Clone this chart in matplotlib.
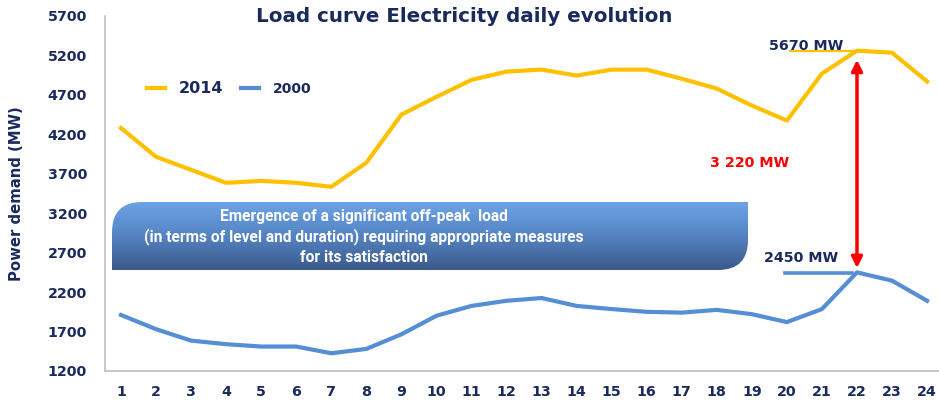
import matplotlib.pyplot as plt
import numpy as np
from matplotlib.path import Path
from matplotlib.patches import PathPatch
from matplotlib.colors import LinearSegmentedColormap

hours = list(range(1, 25))
load_2014 = [4280, 3915, 3750, 3585, 3610, 3585, 3535, 3840, 4450, 4675, 4890, 4995,
             5020, 4945, 5020, 5020, 4905, 4780, 4565, 4375, 4970, 5260, 5235, 4870]
load_2000 = [1910, 1730, 1585, 1540, 1510, 1510, 1425, 1480, 1665, 1900, 2025, 2090,
             2125, 2025, 1985, 1950, 1940, 1975, 1920, 1820, 1985, 2450, 2345, 2090]
y_ticks = [1200, 1700, 2200, 2700, 3200, 3700, 4200, 4700, 5200, 5700]
peak_hour = 22
label_2014 = '5670 MW'
label_2000 = '2450 MW'
label_gap = '3 220 MW'
banner_lines = ['Emergence of a significant off-peak  load',
                '(in terms of level and duration) requiring appropriate measures',
                'for its satisfaction']

navy = '#1b2a5c'
orange = '#ffc000'
blue = '#558ed5'

plt.rcParams['font.family'] = 'DejaVu Sans'
fig = plt.figure(figsize=(9.39, 4.03), dpi=100)
ax = fig.add_axes([105/939, 32/403, 834/939, 355/403])

ax.plot(hours, load_2014, color=orange, lw=3, label='2014', solid_joinstyle='round')
ax.plot(hours, load_2000, color=blue, lw=3, label='2000', solid_joinstyle='round')

ax.set_xlim(0.543, 24.34)
ax.set_ylim(1200, 5700)
ax.set_xticks(hours)
ax.set_yticks(y_ticks)
ax.tick_params(length=0, labelsize=10.3, labelcolor=navy)
ax.tick_params(axis='y', pad=13)
ax.tick_params(axis='x', pad=10)
for t in ax.get_xticklabels() + ax.get_yticklabels():
    t.set_fontweight('bold')
for s in ['top', 'right']:
    ax.spines[s].set_visible(False)
for s in ['left', 'bottom']:
    ax.spines[s].set_color('#bfbfbf')
    ax.spines[s].set_linewidth(1.2)
ax.set_ylabel('Power demand (MW)', fontsize=10.7, fontweight='bold', color=navy)
ax.yaxis.set_label_coords(-0.097, 0.5)

leg = ax.legend(loc='upper left', bbox_to_anchor=(0.035, 0.852), ncol=2, frameon=False,
                handlelength=1.3, handletextpad=1.0, columnspacing=1.3)
for t, size in zip(leg.get_texts(), [11.5, 10]):
    t.set_fontsize(size)
    t.set_fontweight('bold')
    t.set_color(navy)

# peak annotations
i = hours.index(peak_hour)
ax.plot([20.1, peak_hour], [load_2014[i], load_2014[i]], color=orange, lw=1.6)
ax.plot([19.95, peak_hour - 0.15], [load_2000[i] - 5, load_2000[i] - 5], color=blue, lw=2.6)
ax.text(19.5, load_2014[i] - 30, label_2014, fontsize=10.3, fontweight='bold', color=navy, va='bottom')
ax.text(19.35, load_2000[i] + 180, label_2000, fontsize=10.3, fontweight='bold', color=navy, va='center')
ax.text(18.95, 3840, label_gap, fontsize=10.3, fontweight='bold', color='red', ha='center', va='center')
ax.annotate('', xy=(peak_hour, load_2014[i] - 80), xytext=(peak_hour, load_2000[i] + 20),
            arrowprops=dict(arrowstyle='<|-|>', color='red', lw=2.5, mutation_scale=16))

# overlay in pixel coordinates for title and banner
ov = fig.add_axes([0, 0, 1, 1], zorder=5)
ov.axis('off')
ov.patch.set_alpha(0)

ov.text(464, 17, 'Load curve Electricity daily evolution', fontsize=14.3, fontweight='bold',
        color=navy, ha='center', va='center')

x0, x1, y0, y1, r = 112, 748, 202, 270, 30
verts = [(x0, y1), (x0, y0 + r), (x0, y0), (x0 + r, y0), (x1, y0), (x1, y1 - r),
         (x1, y1), (x1 - r, y1), (x0, y1)]
codes = [Path.MOVETO, Path.LINETO, Path.CURVE3, Path.CURVE3, Path.LINETO, Path.LINETO,
         Path.CURVE3, Path.CURVE3, Path.CLOSEPOLY]
patch = PathPatch(Path(verts, codes), facecolor='none', edgecolor='none')
ov.add_patch(patch)
grad = np.linspace(0, 1, 100).reshape(-1, 1)
cmap = LinearSegmentedColormap.from_list('banner', ['#6ba3e6', '#5583c2', '#3b5a8c'])
im = ov.imshow(grad, cmap=cmap, extent=[x0, x1, y1, y0], aspect='auto', zorder=4)
im.set_clip_path(patch)
ov.set_xlim(0, 939)
ov.set_ylim(403, 0)
for k, line in enumerate(banner_lines):
    ov.text(364, 216 + k * 20.5, line, fontsize=11.2, fontweight='bold', color='white',
            ha='center', va='center', family='Roboto', zorder=6)

fig.savefig('out.png', dpi=100)
